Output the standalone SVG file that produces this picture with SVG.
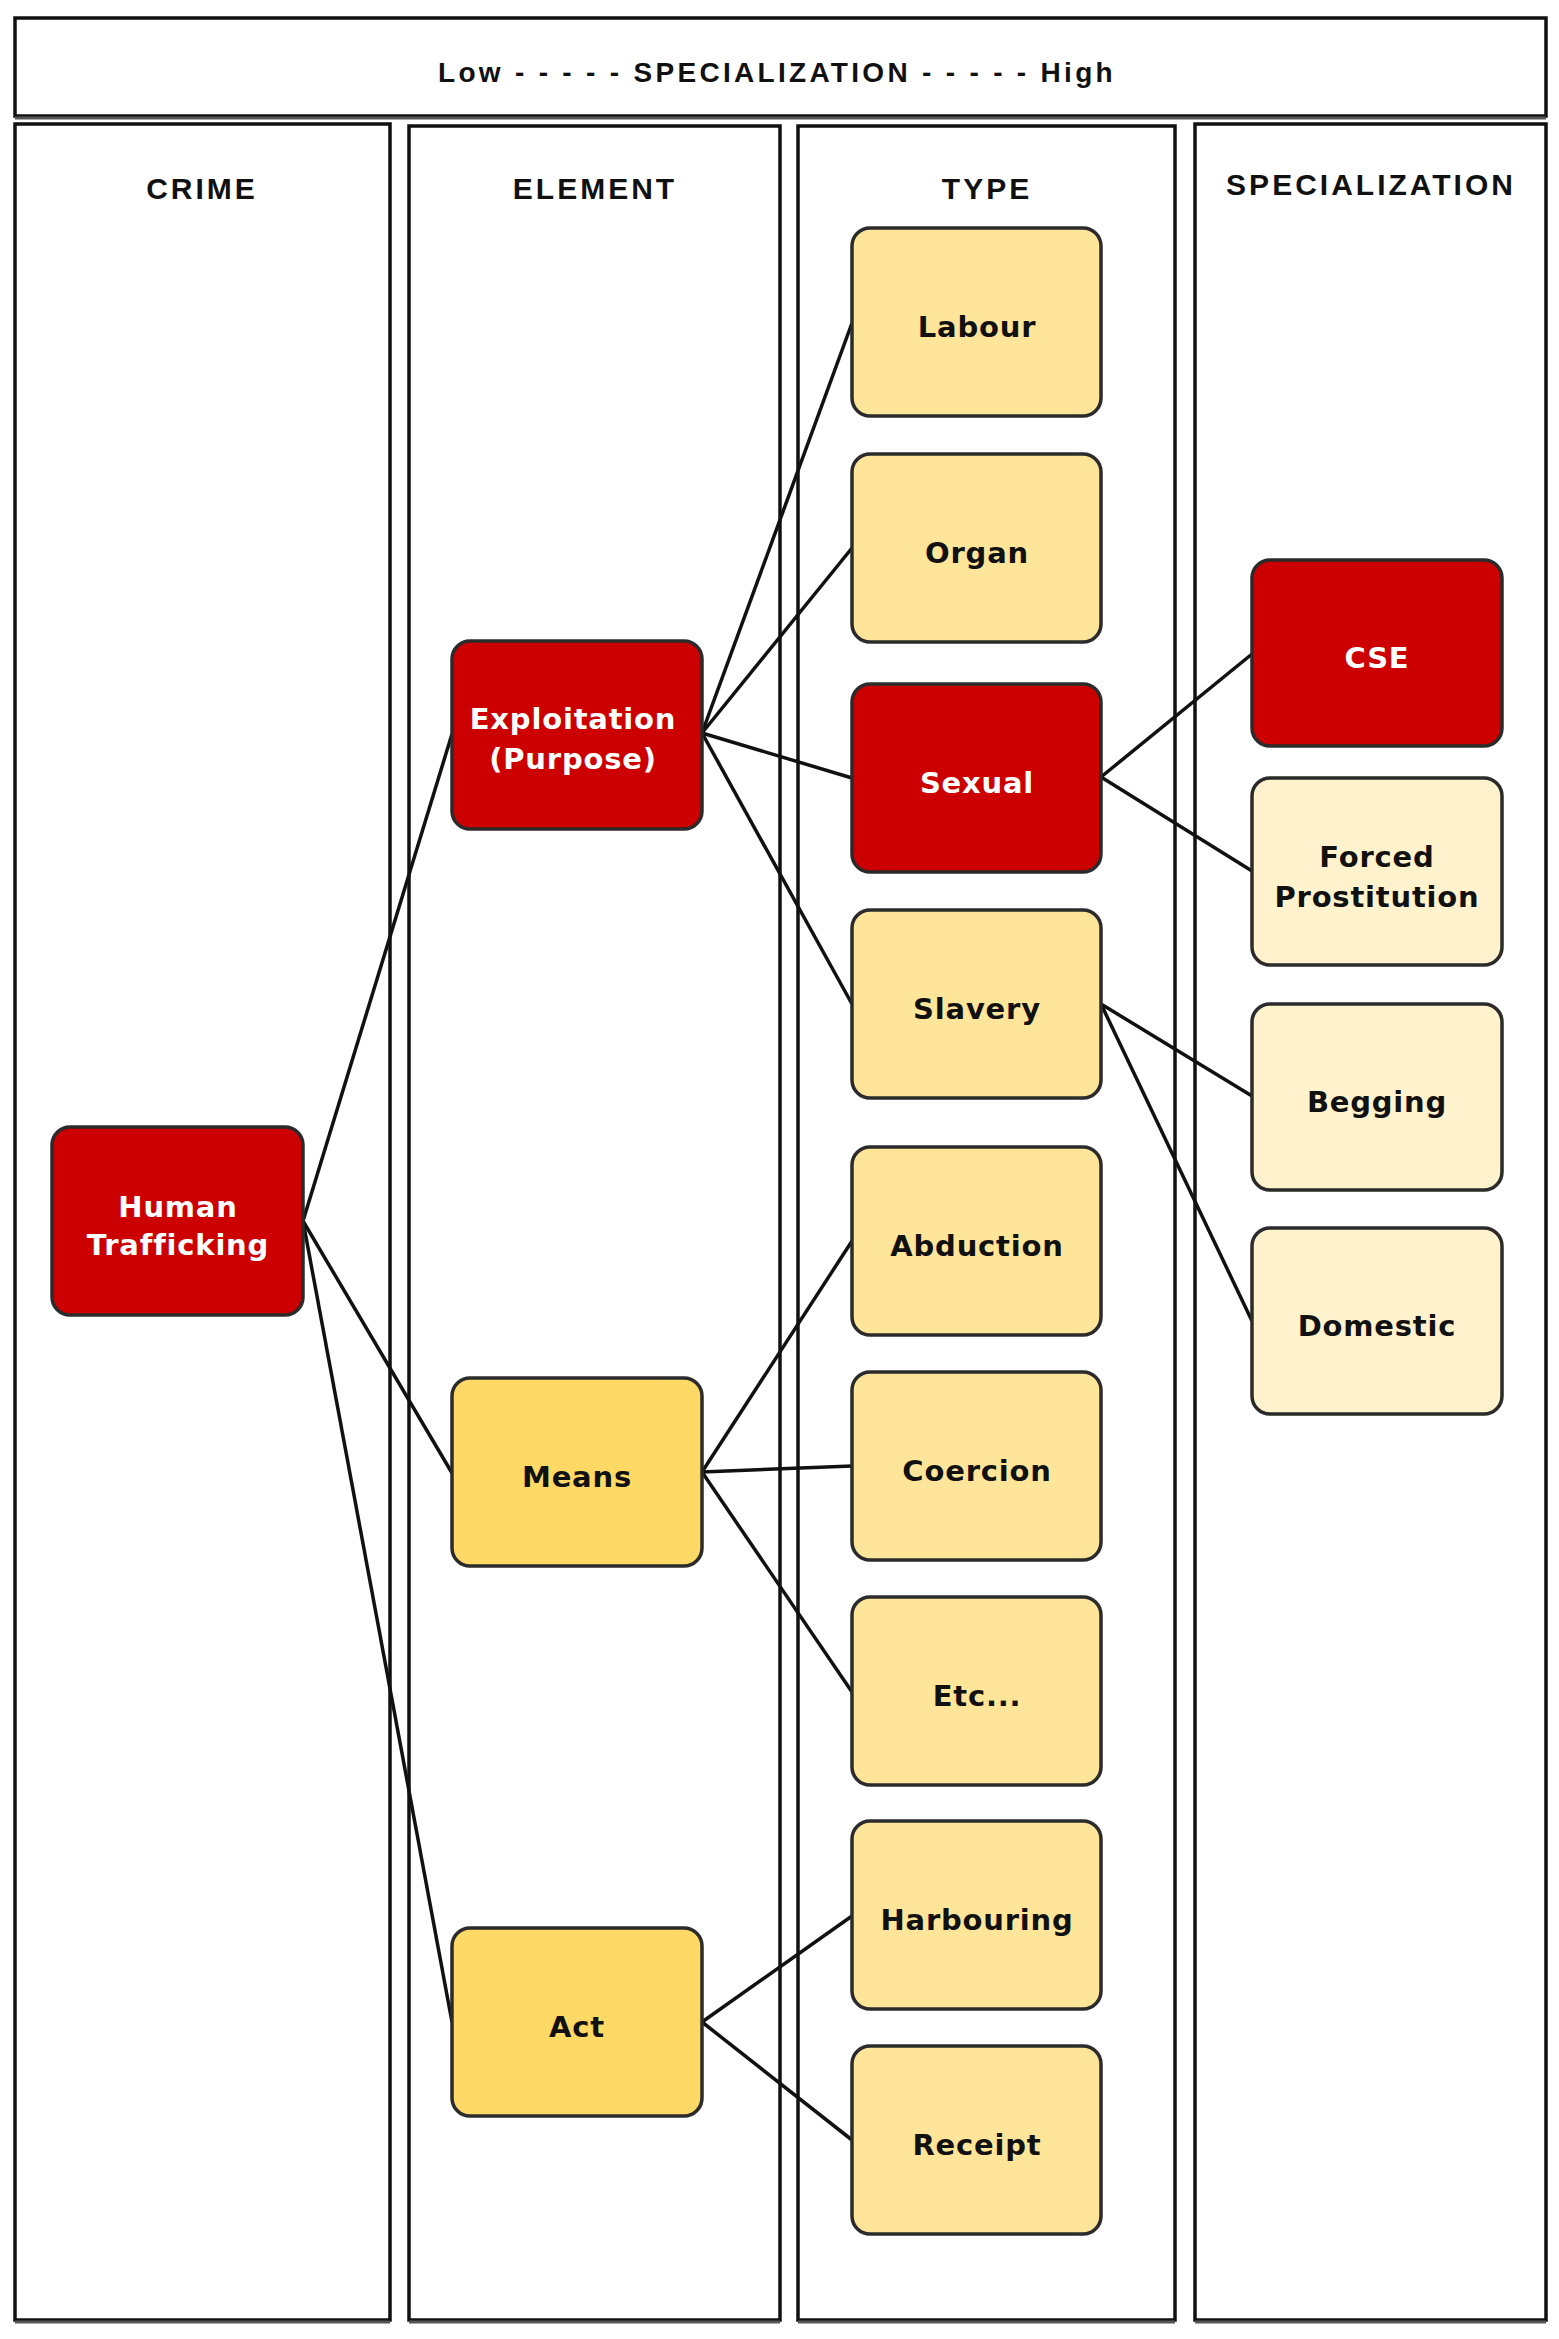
<svg xmlns="http://www.w3.org/2000/svg" width="1559" height="2339" viewBox="0 0 1559 2339">
<style>
.frame{fill:#fff;stroke:#111;stroke-width:3.5}
.shadow{stroke:#555;stroke-width:3;fill:none}
.hdr{font-family:"Liberation Sans",Arial,sans-serif;font-weight:bold;font-size:30px;letter-spacing:3px;fill:#111;text-anchor:middle}
.top{font-family:"Liberation Sans",Arial,sans-serif;font-weight:bold;font-size:28px;letter-spacing:3.3px;fill:#111}
.node rect{stroke:#2b2b2b;stroke-width:3.5}
.red rect{fill:#CC0000}
.yel rect{fill:#FFE599}
.dark rect{fill:#FFD966}
.pale rect{fill:#FFF2CC}
.node text{font-family:"DejaVu Sans",Verdana,sans-serif;font-weight:bold;font-size:29px;letter-spacing:0.8px;text-anchor:middle}
.red text{fill:#fff}
.yel text,.dark text,.pale text{fill:#111}
.conn line{stroke:#111;stroke-width:3.5}
</style>
<rect width="1559" height="2339" fill="#fff"/>
<g id="frames">
<rect class="frame" x="15" y="18" width="1531" height="98"/>
<line class="shadow" x1="15" y1="118" x2="1546" y2="118"/>
<text class="top" x="438" y="82">Low - - - - - SPECIALIZATION - - - - - High</text>
<g id="col-crime">
<rect class="frame" x="15" y="124" width="375" height="2196"/>
<line class="shadow" x1="15" y1="2322" x2="390" y2="2322"/>
<text class="hdr" x="202" y="199">CRIME</text>
</g>
<g id="col-element">
<rect class="frame" x="409" y="126" width="371" height="2194"/>
<line class="shadow" x1="409" y1="2322" x2="780" y2="2322"/>
<text class="hdr" x="595" y="199">ELEMENT</text>
</g>
<g id="col-type">
<rect class="frame" x="798" y="126" width="377" height="2194"/>
<line class="shadow" x1="798" y1="2322" x2="1175" y2="2322"/>
<text class="hdr" x="987" y="199">TYPE</text>
</g>
<g id="col-spec">
<rect class="frame" x="1195" y="124" width="351" height="2196"/>
<line class="shadow" x1="1195" y1="2322" x2="1546" y2="2322"/>
<text class="hdr" x="1371" y="195">SPECIALIZATION</text>
</g>
</g>
<g id="connectors" class="conn">
<line x1="303" y1="1221" x2="452" y2="734"/>
<line x1="303" y1="1221" x2="452" y2="1473"/>
<line x1="303" y1="1221" x2="452" y2="2022"/>
<line x1="702" y1="733" x2="852" y2="323"/>
<line x1="702" y1="733" x2="852" y2="548"/>
<line x1="702" y1="733" x2="852" y2="778"/>
<line x1="702" y1="733" x2="852" y2="1004"/>
<line x1="702" y1="1472" x2="852" y2="1241"/>
<line x1="702" y1="1472" x2="852" y2="1466"/>
<line x1="702" y1="1472" x2="852" y2="1692"/>
<line x1="702" y1="2022" x2="852" y2="1916"/>
<line x1="702" y1="2022" x2="852" y2="2140"/>
<line x1="1101" y1="777" x2="1252" y2="654"/>
<line x1="1101" y1="777" x2="1252" y2="871"/>
<line x1="1101" y1="1004" x2="1252" y2="1096"/>
<line x1="1101" y1="1004" x2="1252" y2="1321"/>
</g>
<g id="human-trafficking" class="node red">
<rect x="52" y="1127" width="251" height="188" rx="18"/>
<text x="178" y="1217">Human</text>
<text x="178" y="1255">Trafficking</text>
</g>
<g id="exploitation" class="node red">
<rect x="452" y="641" width="250" height="188" rx="18"/>
<text x="573" y="729">Exploitation</text>
<text x="573" y="769">(Purpose)</text>
</g>
<g id="means" class="node dark">
<rect x="452" y="1378" width="250" height="188" rx="18"/>
<text x="577" y="1487">Means</text>
</g>
<g id="act" class="node dark">
<rect x="452" y="1928" width="250" height="188" rx="18"/>
<text x="577" y="2037">Act</text>
</g>
<g id="labour" class="node yel">
<rect x="852" y="228" width="249" height="188" rx="18"/>
<text x="977" y="337">Labour</text>
</g>
<g id="organ" class="node yel">
<rect x="852" y="454" width="249" height="188" rx="18"/>
<text x="977" y="563">Organ</text>
</g>
<g id="sexual" class="node red">
<rect x="852" y="684" width="249" height="188" rx="18"/>
<text x="977" y="793">Sexual</text>
</g>
<g id="slavery" class="node yel">
<rect x="852" y="910" width="249" height="188" rx="18"/>
<text x="977" y="1019">Slavery</text>
</g>
<g id="abduction" class="node yel">
<rect x="852" y="1147" width="249" height="188" rx="18"/>
<text x="977" y="1256">Abduction</text>
</g>
<g id="coercion" class="node yel">
<rect x="852" y="1372" width="249" height="188" rx="18"/>
<text x="977" y="1481">Coercion</text>
</g>
<g id="etc" class="node yel">
<rect x="852" y="1597" width="249" height="188" rx="18"/>
<text x="977" y="1706">Etc...</text>
</g>
<g id="harbouring" class="node yel">
<rect x="852" y="1821" width="249" height="188" rx="18"/>
<text x="977" y="1930">Harbouring</text>
</g>
<g id="receipt" class="node yel">
<rect x="852" y="2046" width="249" height="188" rx="18"/>
<text x="977" y="2155">Receipt</text>
</g>
<g id="cse" class="node red">
<rect x="1252" y="560" width="250" height="186" rx="18"/>
<text x="1377" y="668">CSE</text>
</g>
<g id="forced-prostitution" class="node pale">
<rect x="1252" y="778" width="250" height="187" rx="18"/>
<text x="1377" y="867">Forced</text>
<text x="1377" y="907">Prostitution</text>
</g>
<g id="begging" class="node pale">
<rect x="1252" y="1004" width="250" height="186" rx="18"/>
<text x="1377" y="1112">Begging</text>
</g>
<g id="domestic" class="node pale">
<rect x="1252" y="1228" width="250" height="186" rx="18"/>
<text x="1377" y="1336">Domestic</text>
</g>
</svg>
